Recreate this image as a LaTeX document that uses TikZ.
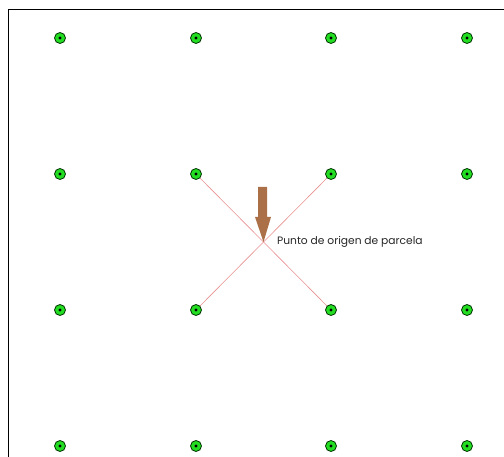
\documentclass[tikz,border=0pt]{standalone}
\usepackage{fontspec}
\setmainfont{Poppins}
\usetikzlibrary{backgrounds}
\definecolor{dotgreen}{HTML}{22DD22}
\definecolor{linered}{HTML}{E89090}
\definecolor{arrowbrown}{HTML}{AC7049}
\tikzset{
  pt/.style={circle, draw=black!80!green, line width=0.8pt, fill=dotgreen, minimum size=11pt, inner sep=0pt,
    path picture={\fill[black] (path picture bounding box.center) circle (1.6pt);}},
  diag/.style={draw=linered, line width=0.6pt},
}
\begin{document}
\begin{tikzpicture}[x=1pt,y=-1pt]
\useasboundingbox (0,0) rectangle (504,457);
\draw[line width=1pt] (8,457) -- (8,10) -- (504,10);
\foreach \i/\x in {1/60,2/196,3/331,4/467}{
  \foreach \j/\y in {1/38,2/174,3/310,4/446}{
    \node[pt] (p\i\j) at (\x,\y) {};
  }
}
\coordinate (o) at (263.5,242);
\begin{pgfonlayer}{background}
\draw[diag] (p22.center) -- (p33.center);
\draw[diag] (p32.center) -- (p23.center);
\end{pgfonlayer}
\fill[arrowbrown] (258,187) -- (267,187) -- (267,217) -- (271,217) -- (o) -- (255,217) -- (258,217) -- cycle;
\node[anchor=west, font=\fontsize{10.7}{12}\selectfont, inner sep=0pt, text=black!85] (lbl) at (277,241.5) {Punto de origen de parcela};
\end{tikzpicture}
\end{document}
